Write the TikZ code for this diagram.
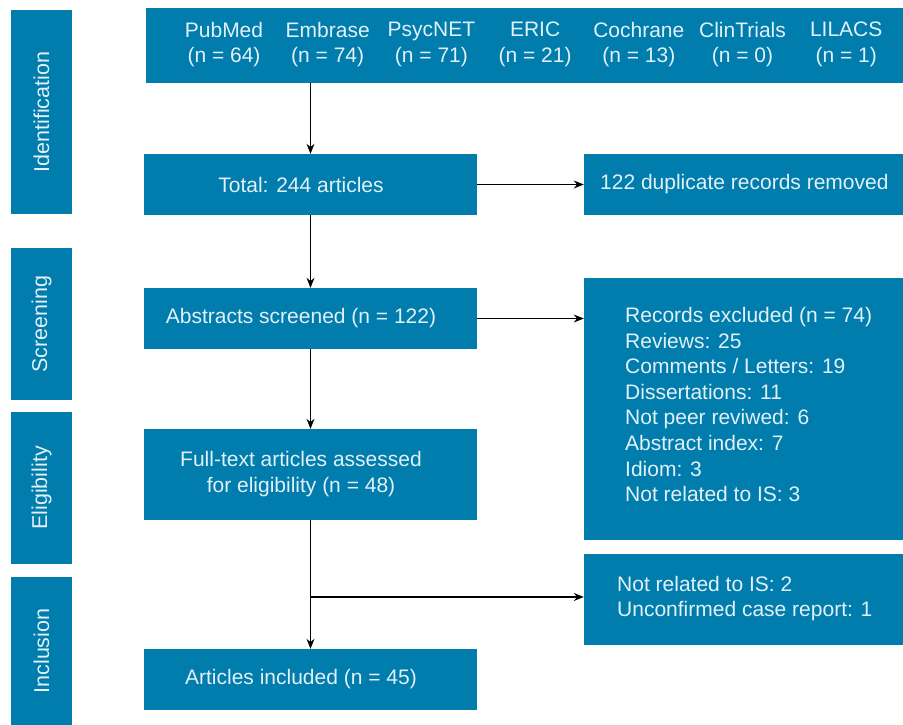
\documentclass[tikz,border=0pt]{standalone}
\usepackage{fontspec}
\setmainfont{Liberation Sans}
\usetikzlibrary{arrows.meta}
\definecolor{prismablue}{RGB}{0,124,173}
\definecolor{prismatext}{RGB}{225,241,247}
\tikzset{
  stagebox/.style={fill=prismablue, minimum width=61pt, inner sep=0pt},
  flowbox/.style={fill=prismablue, inner sep=0pt},
  boxtext/.style={text=prismatext, inner sep=0pt, font=\fontsize{21}{25.6}\selectfont},
  stagetext/.style={boxtext, rotate=90, font=\fontsize{21.5}{25}\selectfont},
  arr/.style={-{Stealth[length=10pt,width=8pt]}, line width=1.2pt, black}
}
\begin{document}
\begin{tikzpicture}[x=1pt, y=-1pt]
    \useasboundingbox (0,0) rectangle (903,725);
    \node [stagebox, minimum height=204pt] (ident) at (41.5,112) {};
    \node [stagebox, minimum height=152pt] (screen) at (41.5,324) {};
    \node [stagebox, minimum height=152pt] (elig) at (41.5,488) {};
    \node [stagebox, minimum height=148pt] (incl) at (41.5,651) {};
    \node [stagetext] (identtxt) at (ident) {Identification};
    \node [stagetext] (screentxt) at (screen) {Screening};
    \node [stagetext] (eligtxt) at (elig) {Eligibility};
    \node [stagetext] (incltxt) at (incl) {Inclusion};

    \node [flowbox, minimum width=757pt, minimum height=75pt] (src) at (524.5,45.5) {};
    \foreach \dbname/\dbnum [count=\i] in {PubMed/64, Embrase/74, PsycNET/71, ERIC/21, Cochrane/13, ClinTrials/0, LILACS/1}
      \node [boxtext, align=center] (db\i) at (224+103.7*\i-103.7,44.5) {\dbname\\(n = \dbnum)};

    \node [flowbox, minimum width=333pt, minimum height=61pt] (total) at (310.5,184.5) {};
    \node [flowbox, minimum width=333pt, minimum height=61pt] (abstracts) at (310.5,318.5) {};
    \node [flowbox, minimum width=333pt, minimum height=91pt] (fulltext) at (310.5,474.5) {};
    \node [flowbox, minimum width=333pt, minimum height=61pt] (included) at (310.5,679.5) {};
    \node [boxtext] (totaltxt) at (301,184.5) {Total: 244 articles};
    \node [boxtext] (abstractstxt) at (301,318.5) {Abstracts screened (n = 122)};
    \node [boxtext, align=center] (fulltexttxt) at (301,474) {Full-text articles assessed\\for eligibility (n = 48)};
    \node [boxtext] (includedtxt) at (301,679.5) {Articles included (n = 45)};

    \node [flowbox, minimum width=319pt, minimum height=61pt] (dupl) at (743.5,184.5) {};
    \node [flowbox, minimum width=319pt, minimum height=262pt] (records) at (743.5,409) {};
    \node [flowbox, minimum width=319pt, minimum height=91pt] (notrel) at (743.5,599.5) {};
    \node [boxtext, anchor=west] (dupltxt) at (600,184.5) {122 duplicate records removed};
    \node [boxtext, anchor=west, align=left] (recordstxt) at (625,404.5) {Records excluded (n = 74)\\Reviews: 25\\Comments / Letters: 19\\Dissertations: 11\\Not peer reviwed: 6\\Abstract index: 7\\Idiom: 3\\Not related to IS: 3};
    \node [boxtext, anchor=west, align=left] (notreltxt) at (617,598.5) {Not related to IS: 2\\Unconfirmed case report: 1};

    \coordinate (split) at (310.5,597);
    \draw [arr] (src.south -| total.north) -- (total.north);
    \draw [arr] (total) -- (dupl);
    \draw [arr] (total) -- (abstracts);
    \draw [arr] (abstracts.east) -- (abstracts.east -| records.west);
    \draw [arr] (abstracts) -- (fulltext);
    \draw [arr] (fulltext) -- (included);
    \draw [arr] (split) -- (split -| notrel.west);
  \end{tikzpicture}
\end{document}
